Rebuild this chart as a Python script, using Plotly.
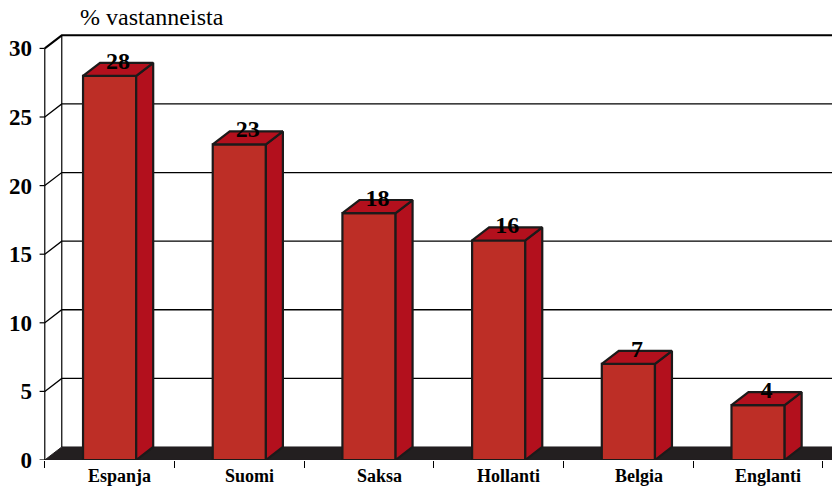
import plotly.graph_objects as go

categories = ["Espanja", "Suomi", "Saksa", "Hollanti", "Belgia", "Englanti"]
values = [28, 23, 18, 16, 7, 4]
y_ticks = [0, 5, 10, 15, 20, 25, 30]
y_label = "% vastanneista"

# 3D look parameters (data units)
W = 0.41      # bar width
DX = 0.131    # depth offset in x
DY = 0.95     # depth offset in y
X0 = -0.5
XMAX = 5.75
YTOP = 30

FRONT = "#BD2E26"
SIDE = "#B3101D"
TOP = "#B3101D"
EDGE = "#1c1a1a"
FLOOR = "#231F20"
SERIF = "Liberation Serif, Times New Roman, serif"

fig = go.Figure()

# floor
fig.add_trace(go.Scatter(
    x=[X0, XMAX, XMAX + DX, X0 + DX, X0],
    y=[0, 0, DY, DY, 0],
    fill="toself", fillcolor=FLOOR, mode="lines",
    line=dict(color=FLOOR, width=1), hoverinfo="skip", showlegend=False))

# back wall gridlines (with diagonal on side wall)
for t in y_ticks[1:]:
    fig.add_trace(go.Scatter(
        x=[X0, X0 + DX, XMAX + DX], y=[t, t + DY, t + DY],
        mode="lines", line=dict(color="black", width=2 if t == YTOP else 1.3),
        hoverinfo="skip", showlegend=False))

# back wall left edge
fig.add_trace(go.Scatter(x=[X0 + DX, X0 + DX], y=[DY, YTOP + DY], mode="lines",
                         line=dict(color="black", width=1.2), hoverinfo="skip", showlegend=False))
# front axis line
fig.add_trace(go.Scatter(x=[X0, X0], y=[0, YTOP], mode="lines",
                         line=dict(color="black", width=1.2), hoverinfo="skip", showlegend=False))
# front axis ticks
for t in y_ticks:
    fig.add_trace(go.Scatter(x=[X0 - 0.04, X0], y=[t, t], mode="lines",
                             line=dict(color="black", width=1.2), hoverinfo="skip", showlegend=False))

# bars
for i, v in enumerate(values):
    l, r = i - W / 2, i + W / 2
    faces = [
        ([l, r, r, l, l], [0, 0, v, v, 0], FRONT),
        ([r, r + DX, r + DX, r, r], [0, DY, v + DY, v, 0], SIDE),
        ([l, r, r + DX, l + DX, l], [v, v, v + DY, v + DY, v], TOP),
    ]
    for xs, ys, col in faces:
        fig.add_trace(go.Scatter(x=xs, y=ys, fill="toself", fillcolor=col, mode="lines",
                                 line=dict(color=EDGE, width=2.2), hoverinfo="skip",
                                 showlegend=False))

# value labels
fig.add_trace(go.Scatter(
    x=[i + DX / 2 for i in range(len(values))],
    y=[v + DY for v in values],
    text=[str(v) for v in values], mode="text", textposition="middle center",
    textfont=dict(family=SERIF, size=24, color="black", weight="bold"),
    hoverinfo="skip", showlegend=False, cliponaxis=False))

annotations = [dict(text=y_label, xref="paper", yref="paper", x=0.052, y=1.04,
                    xanchor="left", yanchor="middle", showarrow=False,
                    font=dict(family=SERIF, size=24, color="black"))]
for i, c in enumerate(categories):
    annotations.append(dict(text=c, xref="x", yref="paper", x=i + DX * 0.6, y=-0.01,
                            xanchor="center", yanchor="top", showarrow=False,
                            font=dict(family=SERIF, size=18, color="black",
                                      weight="bold")))

fig.update_layout(
    width=832, height=486,
    margin=dict(l=37, r=0, t=34, b=26),
    paper_bgcolor="white", plot_bgcolor="white",
    xaxis=dict(range=[-0.56, 5.57], showgrid=False, zeroline=False, showline=False,
               tickmode="array", tickvals=[k - 0.5 for k in range(len(categories) + 1)],
               ticks="outside", ticklen=7, tickcolor="black", tickwidth=1.2,
               showticklabels=False, fixedrange=True),
    yaxis=dict(range=[0, 31.05], showgrid=False, zeroline=False, showline=False,
               tickmode="array", tickvals=y_ticks, ticks="", ticklabelstandoff=4,
               tickfont=dict(family=SERIF, size=23, color="black", weight="bold"),
               fixedrange=True),
    annotations=annotations,
)

fig.write_html("out.html", config={"displayModeBar": False},
               post_script="document.body.style.margin='0';document.body.style.overflow='hidden';")
